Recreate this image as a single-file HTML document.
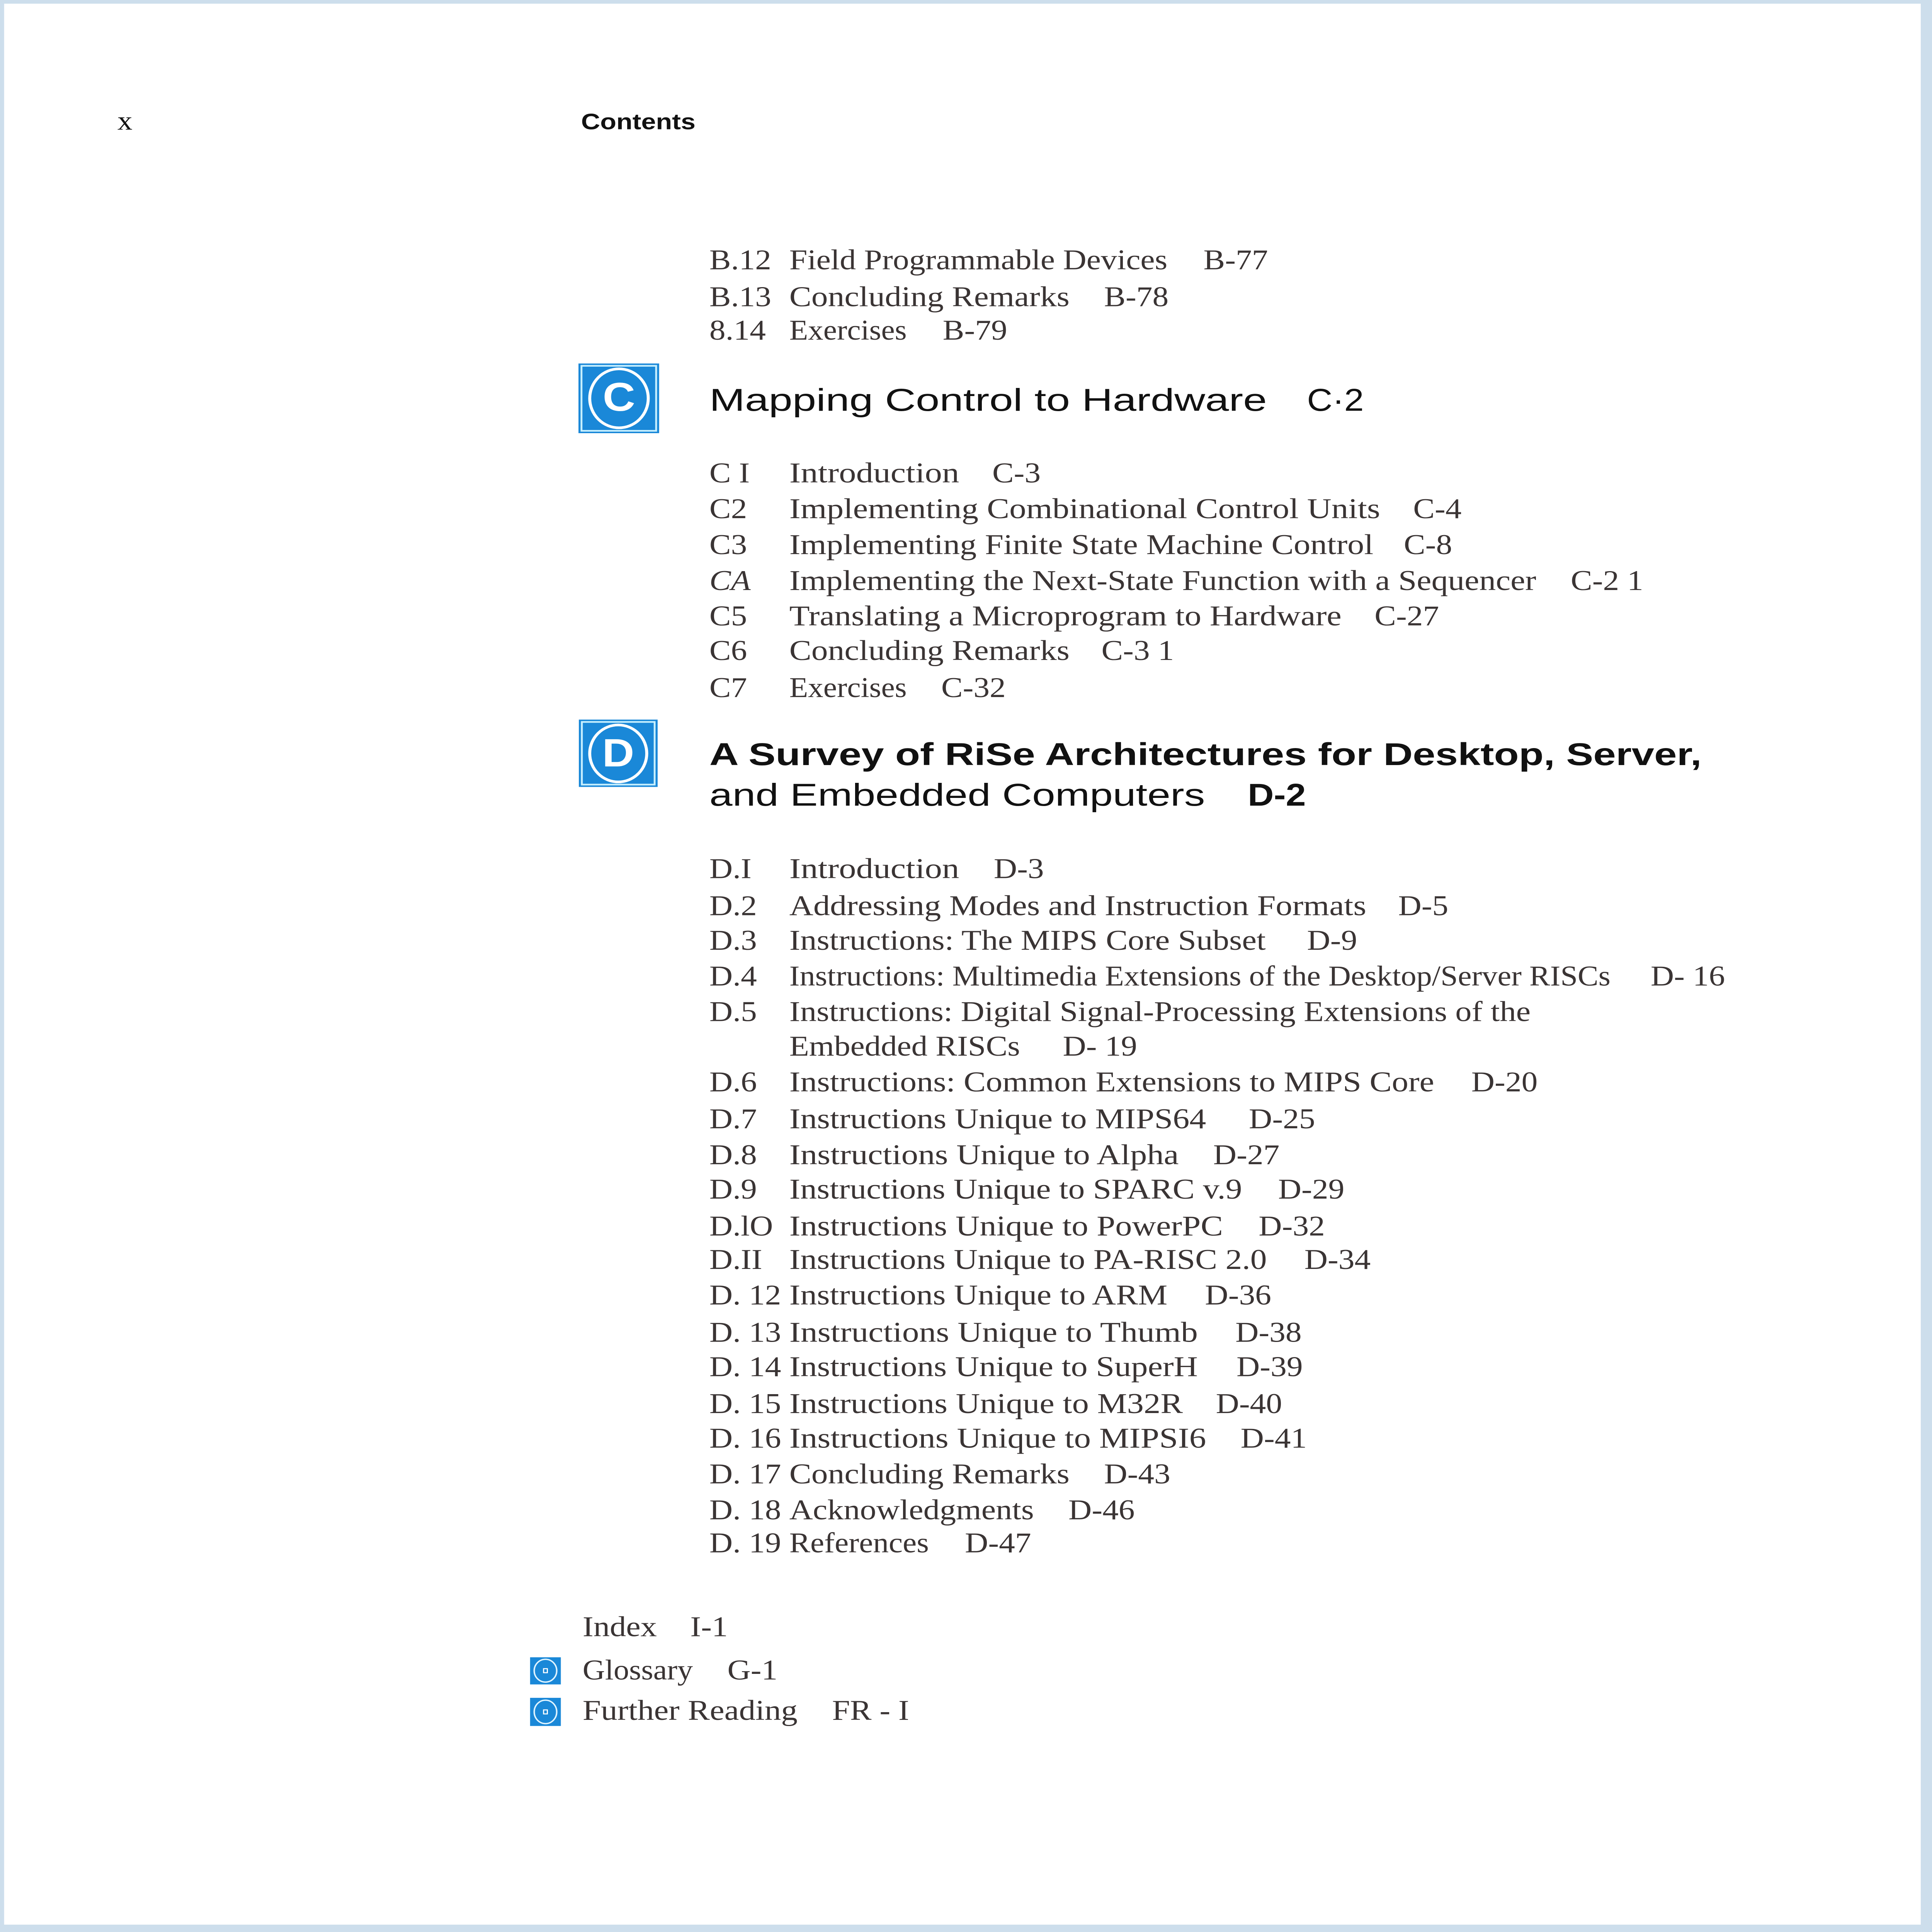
<!DOCTYPE html>
<html><head><meta charset="utf-8"><style>
html,body{margin:0;padding:0;background:#fff;width:100%;height:100%;overflow:hidden;}
svg{display:block;position:fixed;left:0;top:0;width:100vw;height:100vh;}
.s{font-family:"Liberation Serif",serif;font-size:86px;fill:#3a3434;}
.h{font-family:"Liberation Sans",sans-serif;font-size:94px;fill:#111;}
.hb{font-family:"Liberation Sans",sans-serif;font-size:94px;font-weight:bold;fill:#111;}
</style></head><body>
<svg viewBox="0 0 5150 5767" preserveAspectRatio="none" xmlns="http://www.w3.org/2000/svg">
<rect x="0" y="0" width="5150" height="5767" fill="#cddeec"/>
<rect x="11" y="11" width="5109" height="5734" fill="#fff"/>

<text x="313" y="387" font-family="Liberation Serif, serif" font-size="80" fill="#111">x</text>
<text x="1549" y="386" font-family="Liberation Sans, sans-serif" font-size="66" font-weight="bold" fill="#111" textLength="305" lengthAdjust="spacingAndGlyphs">Contents</text>

<g class="s">
<text x="1891" y="804">B.12</text><text x="2104" y="804" textLength="1008" lengthAdjust="spacingAndGlyphs">Field Programmable Devices</text><text x="3208" y="804">B-77</text>
<text x="1891" y="914">B.13</text><text x="2104" y="914" textLength="747" lengthAdjust="spacingAndGlyphs">Concluding Remarks</text><text x="2943" y="914">B-78</text>
<text x="1891" y="1014">8.14</text><text x="2104" y="1014" textLength="313" lengthAdjust="spacingAndGlyphs">Exercises</text><text x="2513" y="1014">B-79</text>
</g>

<g>
<rect x="1542" y="1085" width="215" height="208" fill="#1a88d8"/>
<rect x="1550" y="1092" width="199" height="194" fill="none" stroke="#c8f0ff" stroke-width="5"/>
<ellipse cx="1650" cy="1189" rx="78" ry="88" fill="none" stroke="#fff" stroke-width="8"/>
<text x="1650" y="1226" text-anchor="middle" font-family="Liberation Sans, sans-serif" font-weight="bold" font-size="120" fill="#fff">C</text>
</g>
<text class="h" x="1891" y="1226" textLength="1486" lengthAdjust="spacingAndGlyphs">Mapping Control to Hardware</text>
<text class="h" x="3484" y="1226">C·2</text>

<g class="s">
<text x="1891" y="1440">C I</text><text x="2104" y="1440" textLength="453" lengthAdjust="spacingAndGlyphs">Introduction</text><text x="2645" y="1440">C-3</text>
<text x="1891" y="1547">C2</text><text x="2104" y="1547" textLength="1575" lengthAdjust="spacingAndGlyphs">Implementing Combinational Control Units</text><text x="3767" y="1547">C-4</text>
<text x="1891" y="1654">C3</text><text x="2104" y="1654" textLength="1557" lengthAdjust="spacingAndGlyphs">Implementing Finite State Machine Control</text><text x="3742" y="1654">C-8</text>
<text x="1891" y="1761" font-style="italic">CA</text><text x="2104" y="1761" textLength="1991" lengthAdjust="spacingAndGlyphs">Implementing the Next-State Function with a Sequencer</text><text x="4187" y="1761">C-2 1</text>
<text x="1891" y="1867">C5</text><text x="2104" y="1867" textLength="1472" lengthAdjust="spacingAndGlyphs">Translating a Microprogram to Hardware</text><text x="3664" y="1867">C-27</text>
<text x="1891" y="1970">C6</text><text x="2104" y="1970" textLength="747" lengthAdjust="spacingAndGlyphs">Concluding Remarks</text><text x="2936" y="1970">C-3 1</text>
<text x="1891" y="2081">C7</text><text x="2104" y="2081" textLength="313" lengthAdjust="spacingAndGlyphs">Exercises</text><text x="2509" y="2081">C-32</text>
</g>

<g>
<rect x="1543" y="2148" width="210" height="201" fill="#1a88d8"/>
<rect x="1551" y="2155" width="194" height="187" fill="none" stroke="#c8f0ff" stroke-width="5"/>
<ellipse cx="1648" cy="2249" rx="76" ry="85" fill="none" stroke="#fff" stroke-width="8"/>
<text x="1648" y="2288" text-anchor="middle" font-family="Liberation Sans, sans-serif" font-weight="bold" font-size="118" fill="#fff">D</text>
</g>
<text class="hb" x="1891" y="2284" textLength="2645" lengthAdjust="spacingAndGlyphs">A Survey of RiSe Architectures for Desktop, Server,</text>
<text class="h" x="1891" y="2405" textLength="1321" lengthAdjust="spacingAndGlyphs">and Embedded Computers</text>
<text class="hb" x="3326" y="2405" textLength="155" lengthAdjust="spacingAndGlyphs">D-2</text>

<g class="s">
<text x="1891" y="2621">D.I</text><text x="2104" y="2621" textLength="453" lengthAdjust="spacingAndGlyphs">Introduction</text><text x="2649" y="2621">D-3</text>
<text x="1891" y="2732">D.2</text><text x="2104" y="2732" textLength="1538" lengthAdjust="spacingAndGlyphs">Addressing Modes and Instruction Formats</text><text x="3727" y="2732">D-5</text>
<text x="1891" y="2835">D.3</text><text x="2104" y="2835" textLength="1270" lengthAdjust="spacingAndGlyphs">Instructions: The MIPS Core Subset</text><text x="3484" y="2835">D-9</text>
<text x="1891" y="2942">D.4</text><text x="2104" y="2942" textLength="2189" lengthAdjust="spacingAndGlyphs">Instructions: Multimedia Extensions of the Desktop/Server RISCs</text><text x="4400" y="2942">D- 16</text>
<text x="1891" y="3048">D.5</text><text x="2104" y="3048" textLength="1976" lengthAdjust="spacingAndGlyphs">Instructions: Digital Signal-Processing Extensions of the</text>
<text x="2104" y="3151" textLength="615" lengthAdjust="spacingAndGlyphs">Embedded RISCs</text><text x="2833" y="3151">D- 19</text>
<text x="1891" y="3258">D.6</text><text x="2104" y="3258" textLength="1719" lengthAdjust="spacingAndGlyphs">Instructions: Common Extensions to MIPS Core</text><text x="3922" y="3258">D-20</text>
<text x="1891" y="3368">D.7</text><text x="2104" y="3368" textLength="1111" lengthAdjust="spacingAndGlyphs">Instructions Unique to MIPS64</text><text x="3329" y="3368">D-25</text>
<text x="1891" y="3475">D.8</text><text x="2104" y="3475" textLength="1038" lengthAdjust="spacingAndGlyphs">Instructions Unique to Alpha</text><text x="3234" y="3475">D-27</text>
<text x="1891" y="3578">D.9</text><text x="2104" y="3578" textLength="1207" lengthAdjust="spacingAndGlyphs">Instructions Unique to SPARC v.9</text><text x="3407" y="3578">D-29</text>
<text x="1891" y="3688">D.lO</text><text x="2104" y="3688" textLength="1156" lengthAdjust="spacingAndGlyphs">Instructions Unique to PowerPC</text><text x="3355" y="3688">D-32</text>
<text x="1891" y="3788">D.II</text><text x="2104" y="3788" textLength="1273" lengthAdjust="spacingAndGlyphs">Instructions Unique to PA-RISC 2.0</text><text x="3477" y="3788">D-34</text>
<text x="1891" y="3894">D. 12</text><text x="2104" y="3894" textLength="1008" lengthAdjust="spacingAndGlyphs">Instructions Unique to ARM</text><text x="3212" y="3894">D-36</text>
<text x="1891" y="4005">D. 13</text><text x="2104" y="4005" textLength="1089" lengthAdjust="spacingAndGlyphs">Instructions Unique to Thumb</text><text x="3293" y="4005">D-38</text>
<text x="1891" y="4108">D. 14</text><text x="2104" y="4108" textLength="1089" lengthAdjust="spacingAndGlyphs">Instructions Unique to SuperH</text><text x="3296" y="4108">D-39</text>
<text x="1891" y="4218">D. 15</text><text x="2104" y="4218" textLength="1049" lengthAdjust="spacingAndGlyphs">Instructions Unique to M32R</text><text x="3241" y="4218">D-40</text>
<text x="1891" y="4321">D. 16</text><text x="2104" y="4321" textLength="1111" lengthAdjust="spacingAndGlyphs">Instructions Unique to MIPSI6</text><text x="3307" y="4321">D-41</text>
<text x="1891" y="4428">D. 17</text><text x="2104" y="4428" textLength="747" lengthAdjust="spacingAndGlyphs">Concluding Remarks</text><text x="2943" y="4428">D-43</text>
<text x="1891" y="4535">D. 18</text><text x="2104" y="4535" textLength="652" lengthAdjust="spacingAndGlyphs">Acknowledgments</text><text x="2848" y="4535">D-46</text>
<text x="1891" y="4634">D. 19</text><text x="2104" y="4634" textLength="372" lengthAdjust="spacingAndGlyphs">References</text><text x="2572" y="4634">D-47</text>

<text x="1553" y="4884" textLength="198" lengthAdjust="spacingAndGlyphs">Index</text><text x="1840" y="4884">I-1</text>
<text x="1553" y="5013" textLength="294" lengthAdjust="spacingAndGlyphs">Glossary</text><text x="1939" y="5013">G-1</text>
<text x="1553" y="5134" textLength="573" lengthAdjust="spacingAndGlyphs">Further Reading</text><text x="2218" y="5134">FR - I</text>
</g>

<g>
<rect x="1413" y="4947" width="82" height="81" fill="#1a88d8"/>
<ellipse cx="1454" cy="4987" rx="30" ry="34" fill="none" stroke="#dff4ff" stroke-width="4"/>
<rect x="1449" y="4981" width="10" height="12" fill="none" stroke="#fff" stroke-width="3"/>
<rect x="1413" y="5068" width="82" height="84" fill="#1a88d8"/>
<ellipse cx="1454" cy="5110" rx="30" ry="35" fill="none" stroke="#dff4ff" stroke-width="4"/>
<rect x="1449" y="5104" width="10" height="12" fill="none" stroke="#fff" stroke-width="3"/>
</g>
</svg>
</body></html>
